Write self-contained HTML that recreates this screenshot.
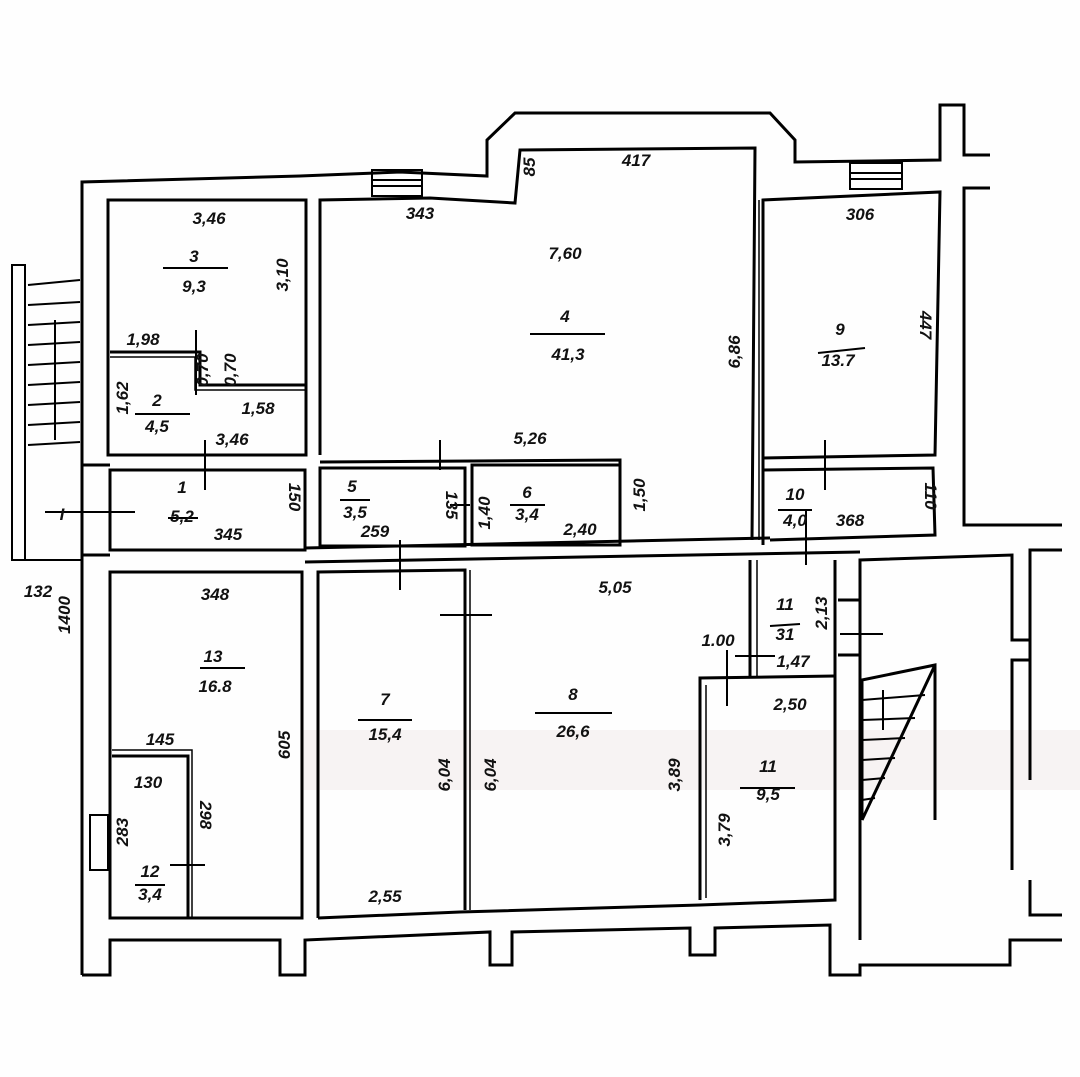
<!DOCTYPE html>
<html><head><meta charset="utf-8"><style>
body{margin:0;background:#fff;}
svg{display:block}
text{font-family:"Liberation Sans",sans-serif;font-style:italic;font-size:17px;font-weight:600;fill:#111;text-anchor:middle}
</style></head><body>
<svg width="1080" height="1077" viewBox="0 0 1080 1077" xmlns="http://www.w3.org/2000/svg">
<rect width="1080" height="1077" fill="#fefefe"/>
<rect x="300" y="730" width="780" height="60" fill="#f4eeee" opacity="0.7"/>
<g fill="none" stroke="#000" stroke-width="3">
<polyline points="82,975 82,182 300,176 400,172 487,176 487,140 515,113 770,113 795,140 795,162 940,160 940,105 964,105 964,155 990,155"/>
<polyline points="990,188 964,188 964,525 1062,525"/>
<polyline points="82,975 110,975 110,940 280,940 280,975 305,975 305,940 490,932 490,965 512,965 512,932 690,928 690,955 715,955 715,928 830,925 830,975 860,975 860,965 1010,965 1010,940 1062,940"/>
<polyline points="1062,915 1030,915 1030,880"/>
<polyline points="1062,550 1030,550 1030,780"/>
<rect x="108" y="200" width="198" height="255"/>
<polyline points="110,352 200,352 200,385 305,385"/>
<polyline points="110,357 195,357 195,390 305,390" stroke-width="1.5"/>
<polyline points="320,455 320,200 430,198 515,203 520,150 755,148 752,540"/>
<polyline points="320,462 620,460 620,545"/>
<polyline points="763,545 763,200 940,192 935,455 763,458"/>
<line x1="759" y1="200" x2="759" y2="540" stroke-width="1.5"/>
<rect x="110" y="470" width="195" height="80"/>
<rect x="320" y="468" width="145" height="78"/>
<rect x="472" y="465" width="148" height="80"/>
<polyline points="763,470 933,468 935,535 770,540"/>
<line x1="305" y1="548" x2="770" y2="538"/>
<line x1="305" y1="562" x2="860" y2="552"/>
<rect x="110" y="572" width="192" height="346"/>
<polyline points="112,756 188,756 188,918"/>
<polyline points="112,750 192,750 192,918" stroke-width="1.5"/>
<polyline points="318,918 318,572 465,570 465,910"/>
<line x1="470" y1="570" x2="470" y2="910" stroke-width="1.5"/>
<polyline points="318,918 460,912 700,905 835,900 835,560"/>
<line x1="750" y1="560" x2="750" y2="676"/>
<line x1="757" y1="560" x2="757" y2="676" stroke-width="1.5"/>
<polyline points="700,900 700,678 835,676"/>
<line x1="706" y1="685" x2="706" y2="898" stroke-width="1.5"/>
<polyline points="860,940 860,560 1012,555 1012,640 1030,640"/>
<polyline points="1030,660 1012,660 1012,870"/>
<line x1="838" y1="600" x2="860" y2="600"/>
<line x1="838" y1="655" x2="860" y2="655"/>
<polyline points="862,820 862,680 935,665 935,820" />
<line x1="862" y1="820" x2="935" y2="665"/>
<polyline points="82,560 25,560 25,265 12,265 12,560 25,560" stroke-width="2"/>
<line x1="110" y1="465" x2="82" y2="465"/>
<line x1="110" y1="555" x2="82" y2="555"/>
</g>
<g stroke="#000" stroke-width="2">
<line x1="28" y1="285" x2="80" y2="280"/><line x1="28" y1="305" x2="80" y2="302"/><line x1="28" y1="325" x2="80" y2="322"/><line x1="28" y1="345" x2="80" y2="342"/><line x1="28" y1="365" x2="80" y2="362"/><line x1="28" y1="385" x2="80" y2="382"/><line x1="28" y1="405" x2="80" y2="402"/><line x1="28" y1="425" x2="80" y2="422"/><line x1="28" y1="445" x2="80" y2="442"/>
<line x1="55" y1="440" x2="55" y2="320"/>
<line x1="862" y1="700" x2="925" y2="695"/><line x1="862" y1="720" x2="915" y2="718"/><line x1="862" y1="740" x2="905" y2="738"/><line x1="862" y1="760" x2="895" y2="758"/><line x1="862" y1="780" x2="885" y2="778"/><line x1="862" y1="800" x2="875" y2="798"/>
<line x1="883" y1="690" x2="883" y2="730"/>
<rect x="372" y="170" width="50" height="26" fill="none"/><line x1="372" y1="180" x2="422" y2="180"/><line x1="372" y1="186" x2="422" y2="186"/>
<rect x="850" y="163" width="52" height="26" fill="none"/><line x1="850" y1="173" x2="902" y2="173"/><line x1="850" y1="179" x2="902" y2="179"/>
<rect x="90" y="815" width="18" height="55" fill="none"/>
<line x1="163" y1="268" x2="228" y2="268"/><line x1="135" y1="414" x2="190" y2="414"/><line x1="530" y1="334" x2="605" y2="334"/><line x1="818" y1="353" x2="865" y2="348"/>
<line x1="200" y1="668" x2="245" y2="668"/><line x1="358" y1="720" x2="412" y2="720"/><line x1="535" y1="713" x2="612" y2="713"/><line x1="740" y1="788" x2="795" y2="788"/>
<line x1="45" y1="512" x2="135" y2="512"/><line x1="205" y1="440" x2="205" y2="490"/><line x1="400" y1="540" x2="400" y2="590"/><line x1="440" y1="440" x2="440" y2="470"/><line x1="450" y1="505" x2="470" y2="505"/><line x1="825" y1="440" x2="825" y2="490"/><line x1="806" y1="510" x2="806" y2="565"/><line x1="440" y1="615" x2="492" y2="615"/><line x1="840" y1="634" x2="883" y2="634"/><line x1="735" y1="656" x2="775" y2="656"/><line x1="727" y1="650" x2="727" y2="706"/><line x1="170" y1="865" x2="205" y2="865"/><line x1="196" y1="330" x2="196" y2="395"/>
<line x1="168" y1="518" x2="198" y2="518"/><line x1="340" y1="500" x2="370" y2="500"/><line x1="510" y1="505" x2="545" y2="505"/><line x1="778" y1="510" x2="812" y2="510"/><line x1="770" y1="626" x2="800" y2="624"/><line x1="135" y1="885" x2="165" y2="885"/>
</g>
<text x="209" y="224">3,46</text><text x="194" y="262">3</text><text x="194" y="292">9,3</text><text x="288" y="275" transform="rotate(-90 288 275)">3,10</text>
<text x="143" y="345">1,98</text><text x="135" y="405" transform="rotate(-90 128 405)">1,62</text><text x="157" y="406">2</text><text x="157" y="432">4,5</text><text x="258" y="414">1,58</text><text x="232" y="445">3,46</text>
<text x="208" y="370" transform="rotate(-90 208 370)" font-size="14">0,70</text><text x="236" y="370" transform="rotate(-90 236 370)" font-size="14">0,70</text>
<text x="420" y="219">343</text><text x="543" y="175" transform="rotate(-90 535 175)">85</text><text x="636" y="166">417</text><text x="565" y="259">7,60</text><text x="565" y="322">4</text><text x="568" y="360">41,3</text><text x="740" y="352" transform="rotate(-90 740 352)">6,86</text><text x="530" y="444">5,26</text>
<text x="860" y="220">306</text><text x="840" y="335">9</text><text x="838" y="366">13.7</text><text x="920" y="325" transform="rotate(90 920 325)">447</text>
<text x="62" y="520">I</text><text x="182" y="493">1</text><text x="182" y="522">5,2</text><text x="228" y="540">345</text><text x="289" y="497" transform="rotate(90 289 497)">150</text>
<text x="352" y="492">5</text><text x="355" y="518">3,5</text><text x="375" y="537">259</text><text x="446" y="505" transform="rotate(90 446 505)" font-size="14">135</text><text x="490" y="513" transform="rotate(-90 490 513)" font-size="15">1,40</text><text x="527" y="498">6</text><text x="527" y="520">3,4</text><text x="580" y="535">2,40</text><text x="645" y="495" transform="rotate(-90 645 495)">1,50</text>
<text x="795" y="500">10</text><text x="795" y="526">4,0</text><text x="850" y="526">368</text><text x="925" y="496" transform="rotate(90 925 496)">110</text>
<text x="38" y="597">132</text><text x="70" y="615" transform="rotate(-90 70 615)">1400</text>
<text x="215" y="600">348</text><text x="213" y="662">13</text><text x="215" y="692">16.8</text><text x="290" y="745" transform="rotate(-90 290 745)">605</text>
<text x="160" y="745">145</text><text x="148" y="788">130</text><text x="128" y="832" transform="rotate(-90 128 832)">283</text><text x="200" y="815" transform="rotate(90 200 815)">298</text><text x="150" y="877">12</text><text x="150" y="900">3,4</text>
<text x="385" y="705">7</text><text x="385" y="740">15,4</text><text x="450" y="775" transform="rotate(-90 450 775)">6,04</text><text x="496" y="775" transform="rotate(-90 496 775)">6,04</text><text x="385" y="902">2,55</text>
<text x="615" y="593">5,05</text><text x="573" y="700">8</text><text x="573" y="737">26,6</text><text x="680" y="775" transform="rotate(-90 680 775)">3,89</text>
<text x="785" y="610">11</text><text x="785" y="640">31</text><text x="827" y="613" transform="rotate(-90 827 613)">2,13</text><text x="718" y="646" font-size="15">1.00</text><text x="793" y="667">1,47</text><text x="790" y="710">2,50</text>
<text x="768" y="772">11</text><text x="768" y="800">9,5</text><text x="730" y="830" transform="rotate(-90 730 830)">3,79</text>
</svg>
</body></html>
